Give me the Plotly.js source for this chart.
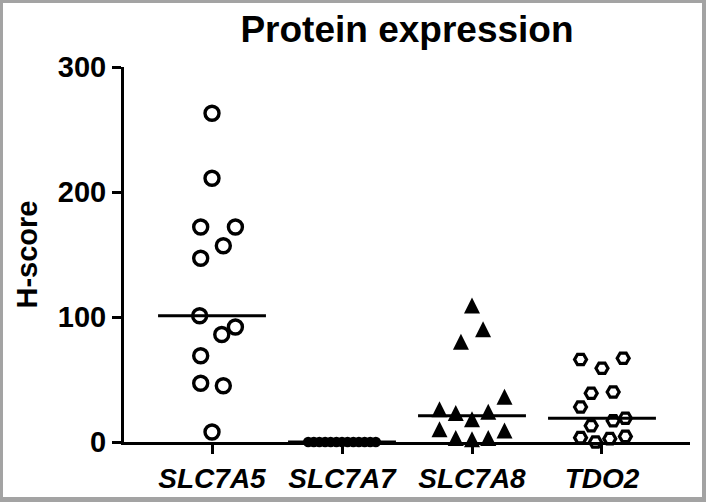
<!DOCTYPE html>
<html>
<head>
<meta charset="utf-8">
<script src="https://cdn.plot.ly/plotly-3.0.1.min.js"></script>
<style>
  html, body { margin: 0; padding: 0; background: #ffffff; }
  #wrap { position: relative; width: 709px; height: 502px; overflow: hidden; }
  #chart { position: absolute; left: 0; top: 0; width: 709px; height: 502px; }
  #frame { position: absolute; left: 0; top: 0; width: 699px; height: 494px;
           border-left: 3px solid #a3a3a3; border-top: 3px solid #a3a3a3;
           border-right: 4px solid #a3a3a3; border-bottom: 5px solid #a3a3a3;
           pointer-events: none; }
</style>
</head>
<body>
<div id="wrap">
  <div id="chart"></div>
  <div id="frame"></div>
</div>
<script>
// ---- data ----
const categories = ["SLC7A5", "SLC7A7", "SLC7A8", "TDO2"];
const yTickValues = [0, 100, 200, 300];

const slc7a5Values = [263, 211, 172, 172, 157, 147, 101, 92, 86, 69, 47, 45, 8];
const slc7a7Values = [0, 0, 0, 0, 0, 0, 0, 0, 0, 0, 0, 0, 0];
const slc7a8Values = [107, 88, 78, 34, 24, 21, 22, 16, 8, 7, 1, 0, 1];
const tdo2Values   = [66, 59, 67, 39, 40, 28, 19, 17, 13, 3.5, 4.5, 2.7, 0];

// horizontal scatter spread of each point (category units), as drawn in the reference
const slc7a5Spread = [0, 0, -0.087, 0.18, 0.087, -0.087, -0.095, 0.18, 0.075, -0.087, -0.087, 0.087, 0];
const slc7a7Spread = [-0.26, -0.217, -0.174, -0.13, -0.087, -0.043, 0, 0.043, 0.087, 0.13, 0.174, 0.217, 0.26];
const slc7a8Spread = [0, 0.085, -0.085, 0.25, -0.25, -0.125, 0.125, 0, -0.25, 0.25, -0.125, 0, 0.125];
const tdo2Spread   = [-0.165, 0, 0.163, -0.083, 0.086, -0.165, 0.18, 0.086, -0.083, -0.165, 0.18, 0.06, -0.05];

// ---- helpers ----
function median(arr) {
  const s = arr.slice().sort((a, b) => a - b);
  const m = Math.floor(s.length / 2);
  return s.length % 2 ? s[m] : (s[m - 1] + s[m]) / 2;
}
function xs(idx, spread) { return spread.map(d => idx + d); }

const TRI = 16;
const groups = [
  { values: slc7a5Values, spread: slc7a5Spread,
    marker: { symbol: "circle-open", size: 14, color: "#000", line: { width: 3.4, color: "#000" } } },
  { values: slc7a7Values, spread: slc7a7Spread,
    marker: { symbol: "circle", size: 10.5, color: "#000", line: { width: 0 } } },
  { values: slc7a8Values, spread: slc7a8Spread,
    marker: { symbol: "arrow-down", angle: 180, size: TRI, standoff: TRI * 2 / 3, color: "#000", line: { width: 0 } } },
  { values: tdo2Values, spread: tdo2Spread,
    marker: { symbol: "hexagon2-open", size: 12, color: "#000", line: { width: 3.2, color: "#000" } } }
];

const traces = [];
groups.forEach((g, i) => {
  const m = median(g.values);
  traces.push({
    type: "scatter", mode: "lines",
    x: [i - 0.415, i + 0.415], y: [m, m],
    line: { color: "#000", width: 3 },
    hoverinfo: "skip", showlegend: false, cliponaxis: false
  });
});
groups.forEach((g, i) => {
  traces.push({
    type: "scatter", mode: "markers",
    name: categories[i],
    x: xs(i, g.spread), y: g.values,
    marker: g.marker,
    showlegend: false, cliponaxis: false
  });
});

const FONT = "Liberation Sans, Arial, Helvetica, sans-serif";

const layout = {
  width: 709, height: 502,
  margin: { l: 124, r: 19, t: 67, b: 60 },
  paper_bgcolor: "#ffffff",
  plot_bgcolor: "#ffffff",
  showlegend: false,
  title: {
    text: "Protein expression",
    font: { family: FONT, size: 37, color: "#000", weight: "bold" },
    x: 0.5, xref: "paper", xanchor: "center",
    y: 0.942, yref: "container", yanchor: "middle"
  },
  xaxis: {
    range: [-0.677, 3.677],
    tickmode: "array", tickvals: [0, 1, 2, 3], ticktext: categories,
    showline: true, linecolor: "#000", linewidth: 3,
    ticks: "outside", ticklen: 9, tickwidth: 3, tickcolor: "#000",
    showgrid: false, zeroline: false,
    tickfont: { family: FONT, size: 28, color: "#000", weight: "bold", style: "italic" }
  },
  yaxis: {
    range: [0, 300],
    tickmode: "array", tickvals: yTickValues,
    showline: true, linecolor: "#000", linewidth: 3,
    ticks: "outside", ticklen: 9, tickwidth: 3, tickcolor: "#000",
    showgrid: false, zeroline: false,
    tickfont: { family: FONT, size: 29, color: "#000", weight: "bold" },
    title: { text: "H-score", standoff: 12,
             font: { family: FONT, size: 29, color: "#000", weight: "bold" } }
  }
};

Plotly.newPlot("chart", traces, layout, { displayModeBar: false, staticPlot: true });
</script>
</body>
</html>
